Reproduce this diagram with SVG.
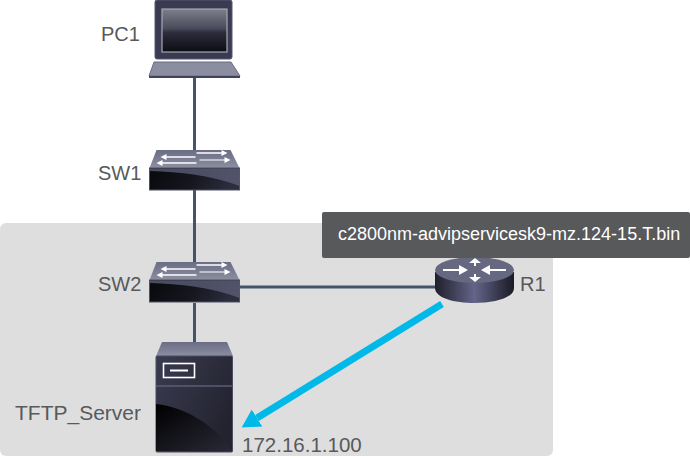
<svg xmlns="http://www.w3.org/2000/svg" width="690" height="458" viewBox="0 0 690 458">
<style>
text{font-family:"Liberation Sans",Arial,sans-serif;fill:#58595b;font-size:20px}
.c{stroke:#44546a;stroke-width:3;fill:none}
.w{stroke:#fff;stroke-width:1.500;fill:none}
.g{stroke:#d5d7de;stroke-width:1.500;fill:none}
.h{fill:#fff}
.hg{fill:#d5d7de}
</style>
<defs>
<linearGradient id="top" x1="0" y1="0" x2="0" y2="1"><stop offset="0" stop-color="#6a6d84"/><stop offset="1" stop-color="#8c8fa0"/></linearGradient>
<linearGradient id="front" x1="0" y1="0" x2="1" y2="0.15"><stop offset="0" stop-color="#08080e"/><stop offset="0.55" stop-color="#16161f"/><stop offset="1" stop-color="#2c2d3e"/></linearGradient>
<linearGradient id="screen" x1="0" y1="0" x2="0" y2="1"><stop offset="0" stop-color="#7d7f8a"/><stop offset="0.45" stop-color="#4a4b5c"/><stop offset="0.55" stop-color="#2c2c3c"/><stop offset="1" stop-color="#0c0c12"/></linearGradient>
<linearGradient id="cyl" x1="0" y1="0" x2="1" y2="0"><stop offset="0" stop-color="#1f1f2b"/><stop offset="0.5" stop-color="#636589"/><stop offset="1" stop-color="#1a1a25"/></linearGradient>
<linearGradient id="srv" x1="0" y1="0" x2="1" y2="0.6"><stop offset="0" stop-color="#3a3b50"/><stop offset="1" stop-color="#23232f"/></linearGradient>
<linearGradient id="srv2" x1="0" y1="0" x2="1" y2="1"><stop offset="0" stop-color="#000"/><stop offset="1" stop-color="#2a2a38"/></linearGradient>
<marker id="ah" markerUnits="userSpaceOnUse" markerWidth="20" markerHeight="22" refX="0" refY="10" orient="auto"><path d="M0 0L18 10L0 20Z" fill="#00b9e8"/></marker>
<g id="sw">
<path d="M7 0H81L90 18H0Z" fill="url(#top)"/>
<rect x="0" y="18" width="90" height="22" fill="url(#front)" stroke="#4f5168" stroke-width="1"/>
<path d="M0 18.500H90V36C62 25 30 22 0 21Z" fill="#5b5d75" opacity=".8"/>
<path class="w" d="M47 3H75"/><path class="h" d="M78 3l-6-3v6Z"/>
<path class="w" d="M16 7H46"/><path class="h" d="M11 7l6-3v6Z"/>
<path class="g" d="M50 10H78"/><path class="h" d="M81 10l-6-3v6Z"/>
<path class="w" d="M12 13H47"/><path class="h" d="M7 13l6-3v6Z"/>
</g>
</defs>
<rect x="0" y="223" width="553" height="233" rx="6" fill="#dedede"/>
<g id="connectors">
<path class="c" d="M194.500 77V152"/><path class="c" d="M194.500 190V264"/><path class="c" d="M194.500 303V344"/><path class="c" d="M238 287H437"/>
<path d="M442 304L257 418" stroke="#00b9e8" stroke-width="7" fill="none" marker-end="url(#ah)"/>
</g>
<g id="PC1">
<path d="M155 2Q155 0 157 0H230Q232 0 232 2V57Q232 59 230 59H157Q155 59 155 57Z" fill="#3a3b52" stroke="#565870"/>
<rect x="162" y="9" width="65" height="43" fill="url(#screen)" stroke="#a6a8b2" stroke-width="1.200"/>
<path d="M149 76L154 62H231L240 76Z" fill="#8b8ea0" stroke="#6b6d80"/>
<rect x="149" y="76" width="91" height="2" fill="#41435a"/>
<text x="101" y="41">PC1</text>
</g>
<g id="SW1"><use href="#sw" x="149.500" y="150"/><text x="98" y="180">SW1</text></g>
<g id="SW2"><use href="#sw" x="149.500" y="262"/><text x="98" y="291">SW2</text></g>
<g id="TFTP_Server">
<path d="M156 356L162 342H227L233 356Z" fill="url(#top)"/>
<rect x="156" y="356" width="76.500" height="96" rx="1" fill="url(#srv)" stroke="#4a4c62"/>
<path d="M156 404C185 407 215 425 232 451H156Z" fill="url(#srv2)"/>
<path d="M156 386H232" stroke="#5c5e74" stroke-width="1.500"/>
<rect x="163.500" y="363.500" width="31" height="14" fill="none" stroke="#fff" stroke-width="1.600"/>
<path d="M170 370.500H188" stroke="#fff" stroke-width="2"/>
<text x="15" y="420" style="font-size:21px">TFTP_Server</text>
<text x="242" y="452" style="font-size:20.500px">172.16.1.100</text>
</g>
<g id="R1">
<path d="M435 272V288C435 308 514 308 514 288V272Z" fill="url(#cyl)"/>
<ellipse cx="474.500" cy="270" rx="39.500" ry="13" fill="#656880"/>
<path d="M443 270H459M485 270H506M475 260V266M475 274V280" stroke="#fff" stroke-width="2" fill="none"/>
<path class="h" d="M468 270l-9-5v10ZM481 270l9-5v10ZM475 258l-6 5h12ZM475 282l-6-5h12Z"/>
<text x="520" y="291">R1</text>
</g>
<g id="label">
<rect x="322" y="212" width="368" height="46" rx="2" fill="#58595b"/>
<text x="338" y="240" style="fill:#fff;font-size:18px">c2800nm-advipservicesk9-mz.124-15.T.bin</text>
</g>
</svg>
